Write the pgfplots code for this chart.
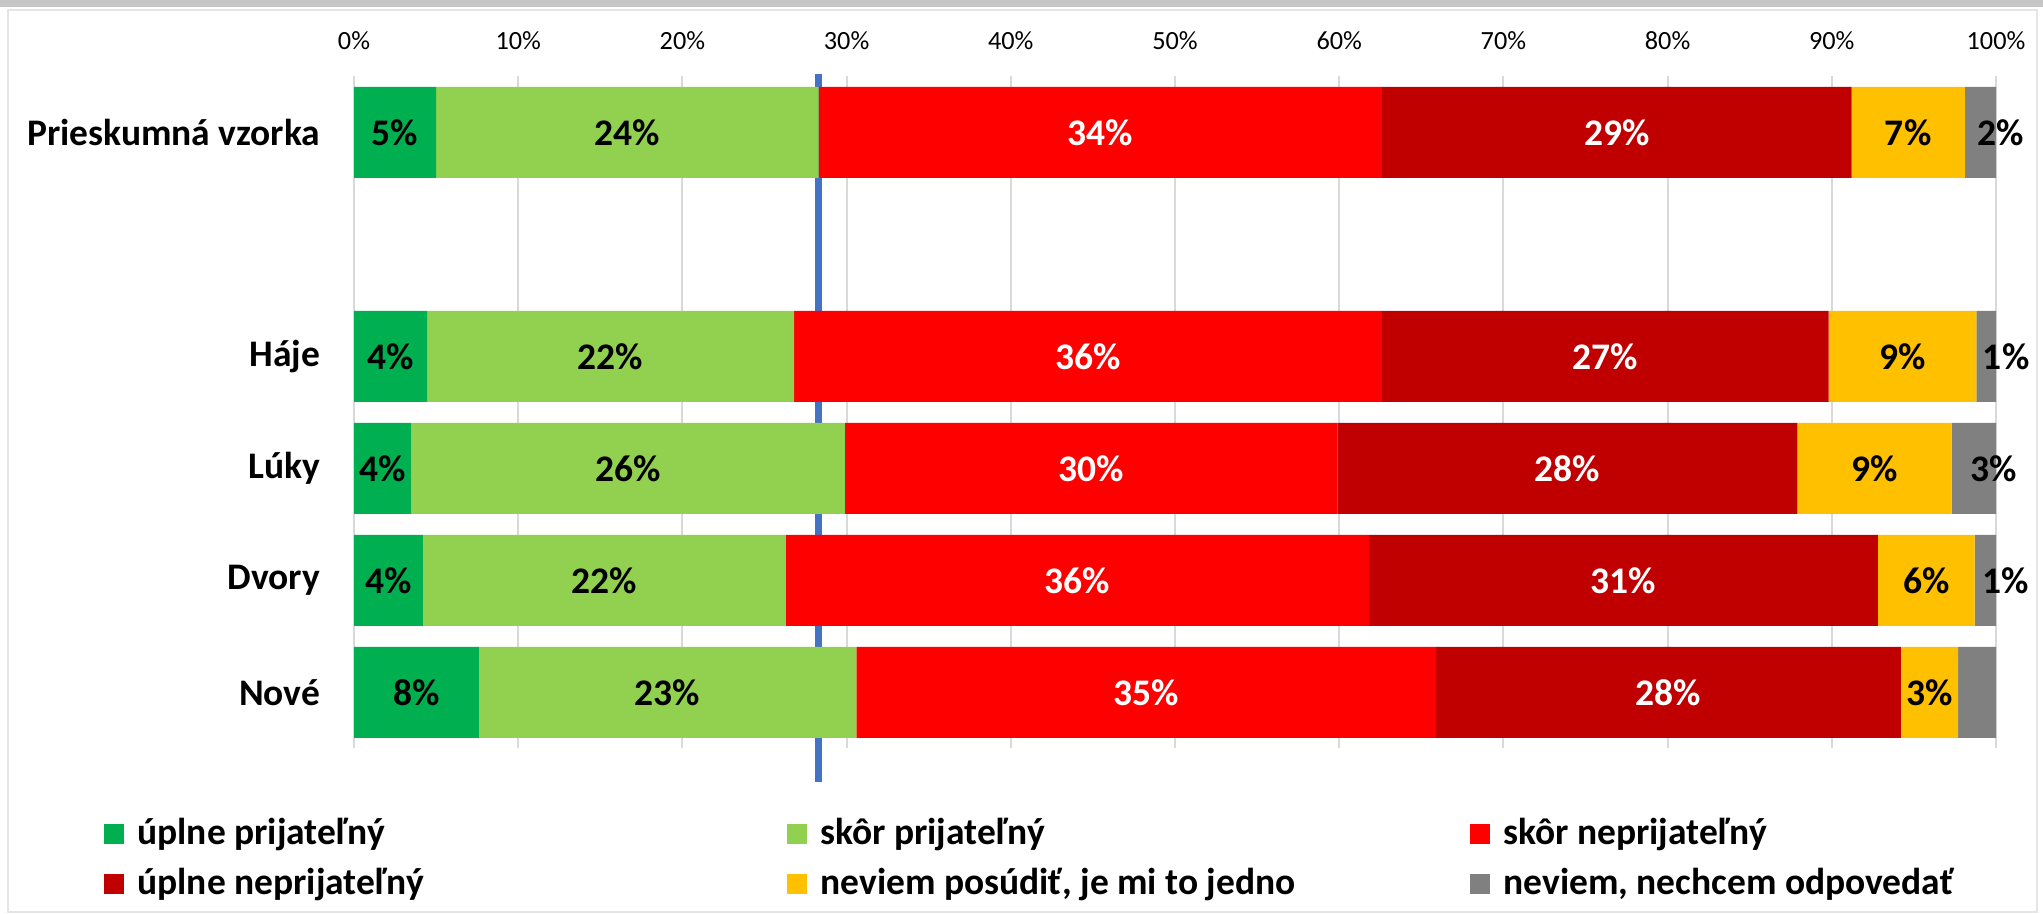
\documentclass[border=0pt]{standalone}
\usepackage{fontspec}
\setmainfont{Carlito}
\usepackage{pgfplots}
\pgfplotsset{compat=1.18}
\definecolor{c1}{HTML}{00B050}
\definecolor{c2}{HTML}{92D050}
\definecolor{c3}{HTML}{FF0000}
\definecolor{c4}{HTML}{C00000}
\definecolor{c5}{HTML}{FFC000}
\definecolor{c6}{HTML}{808080}
\definecolor{refblue}{HTML}{4472C4}
\newcommand{\lbl}{\fontsize{15}{18}\selectfont\bfseries}
\newcommand{\legbox}[1]{\makebox[265.2pt][l]{\hspace{5.2pt}#1}}
% stacked segment with its label centred in it
\pgfplotsset{
  seg/.style={fill=#1, draw=none, nodes near coords, point meta=explicit symbolic,
    every node near coord/.append style={anchor=center, font=\lbl}},
}
\begin{document}
\begin{tikzpicture}
\path[use as bounding box] (0,0) rectangle (817.2pt,365.6pt);
\fill[gray!45] (0,362.6pt) rectangle (817.2pt,365.6pt);
\draw[gray!20, line width=0.8pt] (3pt,0.8pt) rectangle (814.6pt,361.5pt);
\begin{axis}[
  at={(141.6pt,66.2pt)}, anchor=south west,
  scale only axis, width=656.8pt, height=268.8pt,
  xbar stacked, bar width=0.8125,
  xmin=0, xmax=100, ymin=-0.5, ymax=5.5, y dir=reverse,
  clip=false,
  axis line style={draw=none}, major tick length=0pt,
  xtick={0,10,...,100},
  xticklabels={0\%,10\%,20\%,30\%,40\%,50\%,60\%,70\%,80\%,90\%,100\%},
  xticklabel pos=upper,
  xticklabel style={font=\fontsize{10.5}{12}\selectfont, yshift=7pt},
  xmajorgrids, grid style={gray!30, line width=0.8pt},
  ytick={0,2,3,4,5},
  yticklabels={Prieskumná vzorka,Háje,Lúky,Dvory,Nové},
  yticklabel style={font=\lbl, xshift=-10pt},
  legend columns=3,
  legend cell align=left,
  legend style={at={(axis description cs:-0.1523,-0.1034)}, anchor=north west,
    draw=none, fill=none, font=\lbl, inner sep=0pt, nodes={inner sep=0pt},
    row sep=8pt, column sep=0pt},
  legend image code/.code={\path[#1,draw=none] (0pt,-4pt) rectangle (8pt,4pt);},
]
\addplot[seg=c1] coordinates {(5.0,0) [5\%] (4.45,2) [4\%] (3.5,3) [4\%] (4.2,4) [4\%] (7.6,5) [8\%]};
\addlegendentry{\legbox{úplne prijateľný}}
\addplot[seg=c2] coordinates {(23.3,0) [24\%] (22.35,2) [22\%] (26.4,3) [26\%] (22.1,4) [22\%] (23.0,5) [23\%]};
\addlegendentry{\legbox{skôr prijateľný}}
\addplot[seg=c3, every node near coord/.append style={text=white}] coordinates {(34.3,0) [34\%] (35.8,2) [36\%] (30.0,3) [30\%] (35.5,4) [36\%] (35.3,5) [35\%]};
\addlegendentry{\legbox{skôr neprijateľný}}
\addplot[seg=c4, every node near coord/.append style={text=white}] coordinates {(28.6,0) [29\%] (27.2,2) [27\%] (28.0,3) [28\%] (31.0,4) [31\%] (28.3,5) [28\%]};
\addlegendentry{\legbox{úplne neprijateľný}}
\addplot[seg=c5] coordinates {(6.9,0) [7\%] (9.0,2) [9\%] (9.4,3) [9\%] (5.9,4) [6\%] (3.5,5) [3\%]};
\addlegendentry{\legbox{neviem posúdiť, je mi to jedno}}
\addplot[seg=c6, every node near coord/.append style={xshift=8pt}] coordinates {(1.9,0) [2\%] (1.2,2) [1\%] (2.7,3) [3\%] (1.3,4) [1\%] (2.3,5) []};
\addlegendentry{\legbox{neviem, nechcem odpovedať}}
\addplot[refblue, line width=3pt, sharp plot, stack plots=false, forget plot] coordinates {(28.3,-0.52) (28.3,5.8)};
\end{axis}
\end{tikzpicture}
\end{document}
